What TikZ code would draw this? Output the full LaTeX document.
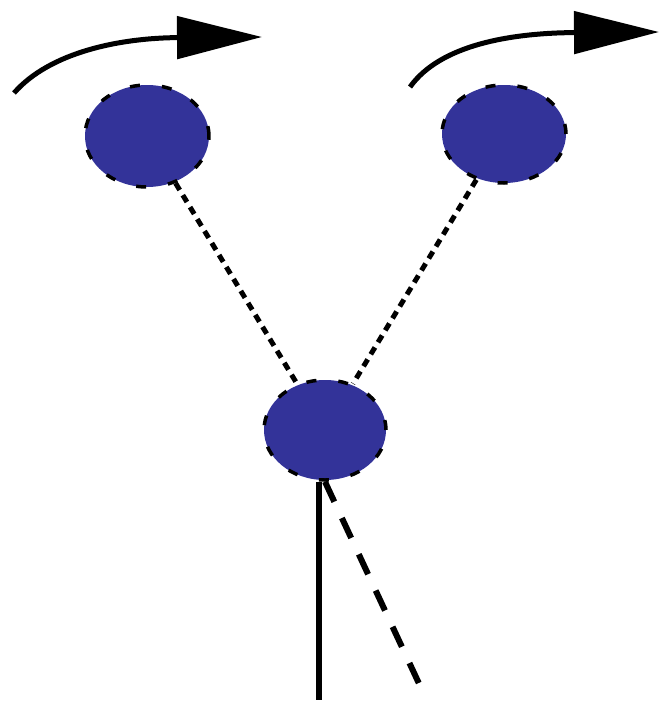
\documentclass[tikz,border=0pt]{standalone}
\usetikzlibrary{arrows.meta,shapes.geometric}
\definecolor{ballblue}{HTML}{333399}
\begin{document}
\begin{tikzpicture}[x=1pt,y=-1pt,
  ball/.style={ellipse, fill=ballblue, draw=black, line width=3.5pt,
    dash pattern=on 10pt off 22pt, inner sep=0pt},
  rod/.style={line width=5pt, dash pattern=on 8pt off 6pt},
  spin/.style={line width=5pt, -{Triangle[length=85pt,width=42pt]}},
]
\useasboundingbox (0,0) rectangle (659,704);
\node[ball, minimum width=124pt, minimum height=102pt] (L) at (147,136) {};
\node[ball, minimum width=124pt, minimum height=98pt] (R) at (504,134) {};
\node[ball, minimum width=122pt, minimum height=100pt] (B) at (325,430) {};
\coordinate (s1) at (319,700);
\coordinate (s2) at (422,690);
\coordinate (a1) at (14,93);
\coordinate (a2) at (262,37);
\coordinate (b1) at (410,87);
\coordinate (b2) at (659,32);
\draw[rod] (L) -- (B);
\draw[rod] (R) -- (B);
\draw[line width=6pt] (B.south -| s1) -- (s1);
\draw[line width=6pt, dash pattern=on 22pt off 18pt] (B.south) -- (s2);
\draw[spin] (a1) .. controls (50,52) and (120,38) .. (a2);
\draw[spin] (b1) .. controls (440,45) and (510,33) .. (b2);
\end{tikzpicture}
\end{document}
